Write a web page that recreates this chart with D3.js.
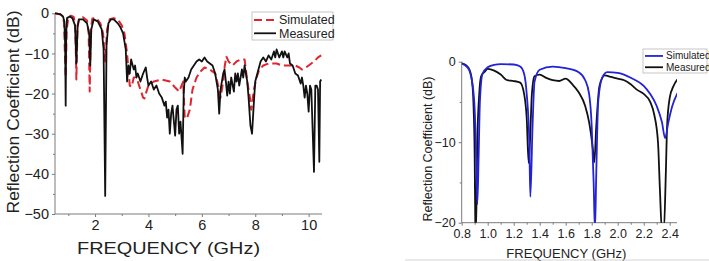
<!DOCTYPE html>
<html lang="en">
<head>
<meta charset="UTF-8">
<title>Reflection Coefficient</title>
<script src="https://cdn.jsdelivr.net/npm/d3@7"></script>
<style>
  * { margin: 0; }
  body { background: #fff; width: 709px; height: 261px; overflow: hidden; }
  text { font-family: "Liberation Sans", Arial, sans-serif; fill: #222; }
</style>
</head>
<body>
<svg id="chart" width="709" height="261"></svg>
<script>
// ---- left chart data (0.5 - 10.5 GHz) ----
const leftMeasFreq = [0.5,0.7,0.8,0.85,0.88,0.9,0.92,0.95,1.05,1.15,1.25,1.3,1.35,1.4,1.55,1.7,1.78,1.82,1.86,1.95,2.1,2.25,2.32,2.38,2.43,2.5,2.6,2.7,2.85,2.95,3.05,3.1,3.15,3.2,3.25,3.3,3.35,3.45,3.5,3.55,3.6,3.7,3.8,3.9,3.95,4.0,4.1,4.2,4.3,4.4,4.5,4.6,4.65,4.7,4.75,4.8,4.85,4.9,5.0,5.05,5.1,5.15,5.2,5.28,5.32,5.36,5.4,5.5,5.6,5.7,5.8,5.9,6.0,6.1,6.2,6.3,6.4,6.5,6.6,6.65,6.7,6.8,6.85,6.9,6.95,7.0,7.05,7.1,7.2,7.25,7.3,7.35,7.4,7.5,7.55,7.6,7.65,7.7,7.75,7.82,7.88,7.95,8.0,8.1,8.2,8.3,8.4,8.5,8.6,8.7,8.75,8.8,8.9,9.0,9.05,9.1,9.2,9.25,9.3,9.4,9.5,9.6,9.7,9.75,9.8,9.85,9.9,9.95,10.0,10.05,10.1,10.2,10.25,10.3,10.35,10.4,10.43,10.47];
const leftMeas = [0,-0.2,-0.8,-2,-8,-23,-5,-1.2,-0.8,-1.2,-3,-12.5,-3,-1.5,-1.5,-2.5,-5,-13,-4,-1.5,-2,-4,-9,-45.5,-8,-2.5,-1.5,-1.5,-2.5,-3.5,-5,-7,-9,-17,-13,-15,-11.5,-14,-13,-16,-15,-17,-15,-13.5,-16,-18,-17,-19,-18,-20,-21,-23,-22,-26,-24,-30,-25,-23,-30.5,-24,-23,-30,-27,-35,-20,-16,-17,-16,-14,-13,-12,-11.5,-12,-11,-12,-12.5,-13,-15,-19,-25,-19,-15,-14,-17,-20.5,-17,-20,-16,-19.5,-15,-17,-15,-18,-14,-16,-13,-15,-17,-21,-28,-30,-22,-17,-14.5,-12,-11,-12,-10.5,-11.5,-9.5,-11,-9,-11,-9.5,-11,-9.5,-11,-10,-12.5,-13,-15,-15.5,-17.5,-16,-18,-21,-18,-20,-24.5,-18,-19,-39.5,-18,-18,-19,-37,-17,-16.5];

const leftSimFreq = [0.5,0.7,0.8,0.84,0.87,0.9,0.94,1.0,1.1,1.2,1.26,1.3,1.34,1.4,1.55,1.7,1.76,1.8,1.84,1.9,2.05,2.2,2.3,2.38,2.45,2.55,2.7,2.85,3.0,3.1,3.2,3.3,3.37,3.45,3.5,3.6,3.7,3.8,3.85,3.9,4.0,4.2,4.5,4.8,5.0,5.15,5.3,5.36,5.45,5.55,5.65,5.8,5.95,6.1,6.3,6.5,6.65,6.7,6.8,6.86,6.92,7.0,7.15,7.3,7.45,7.6,7.65,7.7,7.8,7.85,7.95,8.05,8.15,8.3,8.5,8.8,9.0,9.3,9.5,9.65,9.75,9.9,10.0,10.1,10.2,10.35,10.47];
const leftSim = [0,-0.3,-0.8,-2.5,-10,-16,-4,-1,-0.6,-0.9,-3,-16.5,-4,-1.2,-1,-1.8,-5,-19.5,-4,-1.3,-1.2,-2.5,-5,-12,-4,-1.5,-1.2,-1.5,-3,-5,-10,-18,-18.3,-16,-16,-17,-19,-21,-21.2,-20,-18,-17,-16.5,-17,-18.5,-19.5,-17,-26.2,-26,-24,-19,-16,-14.5,-13.5,-14,-15,-19,-21,-17,-13,-10.8,-12,-13,-12,-11.5,-11.5,-14,-17,-21,-24,-19,-16,-14,-13,-12.5,-12.5,-13,-13,-13,-13.5,-14,-13.5,-13,-12.5,-12,-11,-10.5];

const leftXTicks = [2, 4, 6, 8, 10];
const leftYTicks = [0, -10, -20, -30, -40, -50];

// ---- right chart data (0.8 - 2.46 GHz) ----
const rightSimFreq = [0.8,0.85,0.88,0.9,0.91,0.92,0.93,0.94,0.96,1.0,1.05,1.1,1.2,1.25,1.28,1.3,1.32,1.328,1.345,1.36,1.4,1.5,1.6,1.7,1.75,1.78,1.8,1.815,1.825,1.835,1.85,1.88,1.92,2.0,2.1,2.2,2.25,2.3,2.34,2.365,2.39,2.42,2.46];
const rightSim = [-0.2,-0.8,-2.5,-6,-11,-17.7,-12,-5,-1.5,-0.7,-0.4,-0.3,-0.35,-0.6,-1.5,-4,-10,-16.8,-8,-2.5,-1,-0.6,-0.8,-1.3,-2.3,-4,-8,-15,-21,-14,-5,-2,-1.3,-1.4,-2,-3,-4,-5.5,-7.5,-9.5,-7.5,-5.5,-3.9];

const rightMeasFreq = [0.8,0.83,0.86,0.88,0.89,0.9,0.905,0.91,0.92,0.935,0.95,0.98,1.0,1.05,1.1,1.15,1.2,1.25,1.28,1.3,1.315,1.325,1.34,1.36,1.4,1.45,1.5,1.55,1.6,1.65,1.7,1.75,1.78,1.81,1.82,1.835,1.86,1.9,1.95,2.0,2.05,2.1,2.15,2.2,2.25,2.28,2.31,2.325,2.34,2.355,2.37,2.38,2.4,2.43,2.46];
const rightMeas = [-0.2,-0.4,-1,-2.5,-5,-12,-20.5,-21,-10,-4,-1.8,-1.2,-0.9,-1.1,-1.6,-2.3,-2.4,-2.6,-4,-7,-12.6,-10,-4,-1.8,-1.6,-2,-2.3,-2.4,-2.1,-2.8,-3.8,-5.5,-7.5,-11,-12.5,-8,-3,-1.7,-1.9,-2.1,-2.3,-2.8,-3.5,-4,-5,-6.5,-10,-16,-21,-21,-14,-8,-4.5,-3,-2.2];

const rightXTicks = [0.8, 1.0, 1.2, 1.4, 1.6, 1.8, 2.0, 2.2, 2.4];
const rightYTicks = [0, -10, -20];

const svg = d3.select('#chart');
const axisColor = '#7a7a7a';

// draws one panel: axes, labels, clip, lines, legend
function panel(o) {
  const x = d3.scaleLinear().domain(o.xDomain).range([o.left, o.right]);
  const y = d3.scaleLinear().domain(o.yDomain).range([o.bottom, o.top]);
  const g = svg.append('g');

  // minor ticks
  g.append('g')
    .attr('transform', `translate(0,${o.bottom})`)
    .call(d3.axisBottom(x).tickValues(o.xMinor).tickSize(2).tickFormat(''))
    .call(a => a.select('.domain').remove());
  g.append('g')
    .attr('transform', `translate(${o.left},0)`)
    .call(d3.axisLeft(y).tickValues(o.yMinor).tickSize(2).tickFormat(''))
    .call(a => a.select('.domain').remove());

  const xa = g.append('g')
    .attr('transform', `translate(0,${o.bottom})`)
    .call(d3.axisBottom(x).tickValues(o.xTicks).tickSize(3).tickPadding(3).tickFormat(o.xFmt));
  const ya = g.append('g')
    .attr('transform', `translate(${o.left},0)`)
    .call(d3.axisLeft(y).tickValues(o.yTicks).tickSize(3).tickPadding(3).tickFormat(d3.format('d')));
  [xa, ya].forEach(a => {
    a.selectAll('text').attr('font-size', o.tickFont).attr('fill', '#222')
      .attr('font-family', '"Liberation Sans", Arial, sans-serif');
    a.select('.domain').remove();
  });
  g.selectAll('.tick line').attr('stroke', axisColor);
  // plain L-shaped frame
  g.append('path')
    .attr('d', `M${o.left},${o.top}V${o.bottom}H${o.right}`)
    .attr('fill', 'none').attr('stroke', axisColor);

  g.append('text')
    .attr('x', (o.left + o.right) / 2 + o.xLabelDx).attr('y', o.xLabelY)
    .attr('text-anchor', 'middle').attr('font-size', o.labelFont)
    .attr('textLength', o.xLabelLen).attr('lengthAdjust', 'spacingAndGlyphs')
    .text('FREQUENCY (GHz)');
  g.append('text')
    .attr('transform', `translate(${o.yLabelX},${o.yLabelCy}) rotate(-90)`)
    .attr('text-anchor', 'middle').attr('font-size', o.labelFont)
    .attr('textLength', o.yLabelLen).attr('lengthAdjust', 'spacingAndGlyphs')
    .text('Reflection Coefficient (dB)');

  svg.append('clipPath').attr('id', o.id)
    .append('rect').attr('x', o.left).attr('y', o.top - 4)
    .attr('width', o.right - o.left).attr('height', o.bottom - o.top + 4);

  const line = d3.line().x(d => x(d[0])).y(d => y(d[1])).curve(o.curve);
  o.series.forEach(s => {
    g.append('path')
      .datum(d3.zip(s.f, s.v))
      .attr('clip-path', `url(#${o.id})`)
      .attr('fill', 'none')
      .attr('stroke', s.color)
      .attr('stroke-width', s.width)
      .attr('stroke-dasharray', s.dash || null)
      .attr('stroke-linejoin', 'round')
      .attr('d', line);
  });

  // legend (Simulated on top, Measured below)
  const lg = g.append('g');
  lg.append('rect').attr('x', o.legend.x).attr('y', o.legend.y)
    .attr('width', o.legend.w).attr('height', o.legend.h)
    .attr('fill', '#fff').attr('stroke', '#b8b8b8').attr('stroke-width', 0.8);
  o.legendOrder.forEach((name, i) => {
    const s = o.series.find(d => d.name === name);
    const cy = o.legend.y + o.legend.h * (i === 0 ? 0.29 : 0.76);
    lg.append('line')
      .attr('x1', o.legend.x + 2).attr('x2', o.legend.x + 2 + o.legend.sample)
      .attr('y1', cy).attr('y2', cy)
      .attr('stroke', s.color).attr('stroke-width', s.width)
      .attr('stroke-dasharray', s.dash || null);
    lg.append('text')
      .attr('x', o.legend.x + 5 + o.legend.sample).attr('y', cy)
      .attr('dy', '0.35em').attr('font-size', o.legend.font).attr('fill', '#333')
      .text(s.name);
  });
}

panel({
  id: 'clipL', left: 55, right: 322, top: 13.3, bottom: 214,
  xDomain: [0.5, 10.5], yDomain: [-50, 0],
  xTicks: leftXTicks, yTicks: leftYTicks,
  xMinor: [1, 3, 5, 7, 9], yMinor: [-5, -15, -25, -35, -45],
  xFmt: d3.format('d'), tickFont: 14.5, labelFont: 16,
  xLabelY: 254, xLabelDx: -20, xLabelLen: 183,
  yLabelX: 19, yLabelCy: 112, yLabelLen: 203,
  curve: d3.curveLinear,
  // red drawn first so the black trace sits on top
  series: [
    { name: 'Simulated', f: leftSimFreq, v: leftSim, color: '#e0252e', width: 2, dash: '8,4' },
    { name: 'Measured', f: leftMeasFreq, v: leftMeas, color: '#111', width: 1.8 }
  ],
  legendOrder: ['Simulated', 'Measured'],
  legend: { x: 252, y: 12, w: 81, h: 28, sample: 22, font: 12.5 }
});

panel({
  id: 'clipR', left: 461.7, right: 677, top: 61.7, bottom: 222.7,
  xDomain: [0.8, 2.4 + 7.3 / 130], yDomain: [-20, 0],
  xTicks: rightXTicks, yTicks: rightYTicks,
  xMinor: [0.9, 1.1, 1.3, 1.5, 1.7, 1.9, 2.1, 2.3], yMinor: [-5, -15],
  xFmt: d3.format('.1f'), tickFont: 12.5, labelFont: 12.5,
  xLabelY: 257.5, xLabelDx: -3, xLabelLen: 120,
  yLabelX: 432, yLabelCy: 149, yLabelLen: 145,
  curve: d3.curveMonotoneX,
  series: [
    { name: 'Measured', f: rightMeasFreq, v: rightMeas, color: '#111', width: 1.8 },
    { name: 'Simulated', f: rightSimFreq, v: rightSim, color: '#2222d8', width: 1.8 }
  ],
  legendOrder: ['Simulated', 'Measured'],
  legend: { x: 643, y: 49, w: 64, h: 24, sample: 18, font: 10 }
});

// thin grey rule along the bottom of the right figure
svg.append('line')
  .attr('x1', 405).attr('x2', 709).attr('y1', 260).attr('y2', 260)
  .attr('stroke', '#d4d4d4').attr('stroke-width', 1);
</script>
</body>
</html>
